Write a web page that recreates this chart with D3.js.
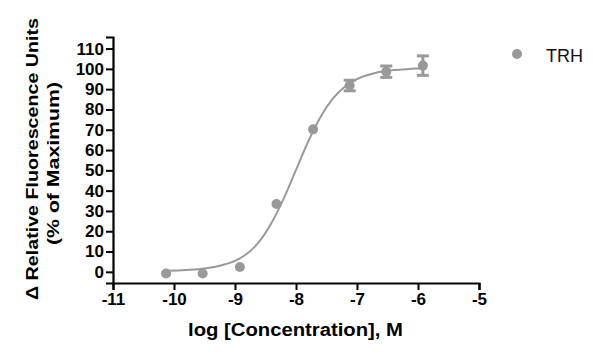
<!DOCTYPE html>
<html lang="en">
<head>
<meta charset="UTF-8">
<title>TRH dose response</title>
<script src="https://d3js.org/d3.v7.min.js"></script>
<style>
    body { margin: 0; background: #fff; }
    text { font-family: Arial, "Liberation Sans", sans-serif; }
</style>
</head>
<body>
<script>
    // measured points (mean, SEM)
    const logConc = [-10.13, -9.53, -8.92, -8.32, -7.72, -7.12, -6.52, -5.92];
    const response = [-0.8, -0.8, 2.4, 33.4, 70.2, 91.8, 98.6, 101.6];
    const sem = [0, 0, 0, 0, 0, 2.6, 2.8, 4.8];

    // fitted curve
    const curveX = [-10.13, -9.8, -9.5, -9.2, -9.0, -8.8, -8.6, -8.4, -8.2, -8.0, -7.8, -7.6, -7.4, -7.2, -7.0, -6.7, -6.4, -6.1, -5.92];
    const curveY = [0.5, 0.9, 1.6, 3.4, 5.4, 9.0, 15.0, 24.2, 36.2, 50.2, 64.2, 76.2, 85.2, 91.2, 95.0, 98.0, 99.4, 100.0, 100.3];

    const xTicks = [-11, -10, -9, -8, -7, -6, -5];
    const yTicks = [0, 10, 20, 30, 40, 50, 60, 70, 80, 90, 100, 110];
    const seriesName = "TRH";

    const width = 600, height = 362;
    const grey = "#999999";

    const svg = d3.select("body").append("svg")
        .attr("width", width)
        .attr("height", height);

    let x = d3.scaleLinear().domain([-11, -5]).range([113, 479]);
    let y = d3.scaleLinear().domain([-5.5, 115.7]).range([283, 37]);

    // plain hyphen for negatives, like the original
    const fmt = d => String(d);

    // x axis
    const xAxis = svg.append("g")
        .attr("transform", "translate(0," + y(-5.5) + ")")
        .call(d3.axisBottom(x).tickValues(xTicks).tickFormat(fmt).tickSizeOuter(0).tickSize(7).tickPadding(3));

    // y axis
    const yAxis = svg.append("g")
        .attr("transform", "translate(" + x(-11) + ",0)")
        .call(d3.axisLeft(y).tickValues(yTicks).tickFormat(fmt).tickSizeOuter(0).tickSize(7).tickPadding(2));

    [xAxis, yAxis].forEach(function (g) {
        g.select(".domain").attr("stroke", "#000").attr("stroke-width", 2.2);
        g.selectAll(".tick line").attr("stroke", "#000").attr("stroke-width", 2);
        g.selectAll(".tick text")
            .attr("fill", "#000")
            .style("font-size", "17px")
            .style("font-weight", "bold");
    });

    // fitted curve
    const line = d3.line()
        .x(d => x(d[0]))
        .y(d => y(d[1]))
        .curve(d3.curveMonotoneX);

    svg.append("path")
        .datum(d3.zip(curveX, curveY))
        .attr("d", line)
        .attr("fill", "none")
        .attr("stroke", grey)
        .attr("stroke-width", 2);

    const pts = d3.zip(logConc, response, sem);

    // error bars
    const eb = svg.selectAll(".eb")
        .data(pts.filter(d => d[2] > 0))
        .enter().append("g")
        .attr("stroke", grey)
        .attr("stroke-width", 3);

    eb.append("line")
        .attr("x1", d => x(d[0])).attr("x2", d => x(d[0]))
        .attr("y1", d => y(d[1] - d[2])).attr("y2", d => y(d[1] + d[2]));
    eb.append("line")
        .attr("x1", d => x(d[0]) - 6).attr("x2", d => x(d[0]) + 6)
        .attr("y1", d => y(d[1] + d[2])).attr("y2", d => y(d[1] + d[2]));
    eb.append("line")
        .attr("x1", d => x(d[0]) - 6).attr("x2", d => x(d[0]) + 6)
        .attr("y1", d => y(d[1] - d[2])).attr("y2", d => y(d[1] - d[2]));

    // points
    svg.selectAll(".dot")
        .data(pts)
        .enter().append("circle")
        .attr("cx", d => x(d[0]))
        .attr("cy", d => y(d[1]))
        .attr("r", 5)
        .attr("fill", grey);

    // axis titles
    svg.append("text")
        .attr("x", 295.5)
        .attr("y", 336)
        .attr("text-anchor", "middle")
        .attr("textLength", 215)
        .attr("lengthAdjust", "spacingAndGlyphs")
        .style("font-size", "18px")
        .style("font-weight", "bold")
        .text("log [Concentration], M");

    const yt = svg.append("g").attr("transform", "rotate(-90)");
    yt.append("text")
        .attr("x", -159)
        .attr("y", 38)
        .attr("text-anchor", "middle")
        .attr("textLength", 282)
        .attr("lengthAdjust", "spacingAndGlyphs")
        .style("font-size", "17px")
        .style("font-weight", "bold")
        .text("\u0394 Relative Fluorescence Units");
    yt.append("text")
        .attr("x", -163.5)
        .attr("y", 59)
        .attr("text-anchor", "middle")
        .attr("textLength", 163)
        .attr("lengthAdjust", "spacingAndGlyphs")
        .style("font-size", "17px")
        .style("font-weight", "bold")
        .text("(% of Maximum)");

    // legend
    svg.append("circle")
        .attr("cx", 517)
        .attr("cy", 54)
        .attr("r", 5)
        .attr("fill", grey);
    svg.append("text")
        .attr("x", 546)
        .attr("y", 61.5)
        .style("font-size", "18px")
        .attr("fill", "#111")
        .text(seriesName);
</script>
</body>
</html>
